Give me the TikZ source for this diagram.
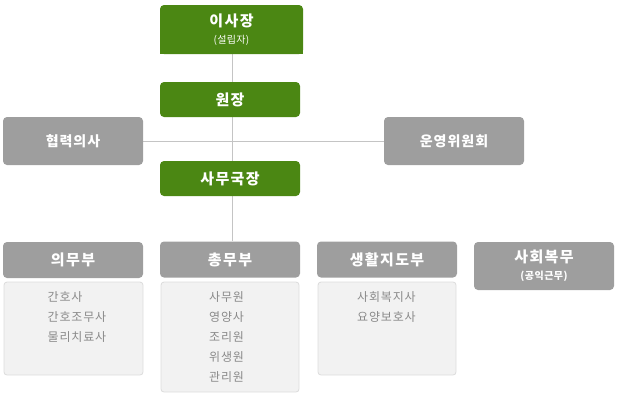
\documentclass[tikz,border=0pt]{standalone}
\usepackage{fontspec}
\setmainfont{Noto Sans CJK KR}
\usetikzlibrary{backgrounds}
\definecolor{gr}{HTML}{4B8713}
\definecolor{gy}{HTML}{9E9E9E}
\definecolor{lfill}{HTML}{F2F2F2}
\definecolor{lline}{HTML}{DCDCDC}
\definecolor{ltext}{HTML}{8A8A8A}
\definecolor{conn}{HTML}{C4C4C4}
\tikzset{
  greenbox/.style={fill=gr, rounded corners=4pt, text=white, inner sep=0pt,
    minimum width=140pt, minimum height=35pt, align=center,
    font=\bfseries\fontsize{15}{18}\selectfont\addfontfeatures{LetterSpace=9}},
  graybox/.style={fill=gy, rounded corners=4pt, text=white, inner sep=0pt,
    minimum width=140pt, minimum height=36pt, align=center,
    font=\bfseries\fontsize{15}{18}\selectfont\addfontfeatures{LetterSpace=9}},
  listbox/.style={fill=lfill, draw=lline, line width=0.8pt, rounded corners=3pt,
    inner sep=0pt, minimum width=138pt},
  listtext/.style={anchor=north west, inner sep=0pt, align=left, text=ltext,
    font=\fontsize{12}{20}\selectfont\addfontfeatures{LetterSpace=7}},
  connline/.style={draw=conn, line width=1pt},
}
\begin{document}
\begin{tikzpicture}[x=1pt,y=-1pt]
\useasboundingbox (0,0) rectangle (617,400);
% top
\node[greenbox, minimum width=143pt, minimum height=49pt] (isajang) at (231.5,29.5)
  {이사장\\[-1pt]{\fontsize{10}{12}\selectfont\mdseries\addfontfeatures{LetterSpace=3} (설립자)}};
\node[greenbox] (wonjang) at (230,99.5) {원장};
\node[greenbox] (samu) at (230,178.5) {사무국장};
\node[graybox, minimum height=48pt, font=\bfseries\fontsize{14}{17}\selectfont\addfontfeatures{LetterSpace=7}] (hyeop) at (73,141) {협력의사};
\node[graybox, minimum height=48pt, font=\bfseries\fontsize{14}{17}\selectfont\addfontfeatures{LetterSpace=7}] (unyeong) at (454,141) {운영위원회};
% departments
\node[graybox] (uimu) at (73,260) {의무부};
\node[graybox] (chongmu) at (230,259.5) {총무부};
\node[graybox] (saenghwal) at (387,259.5) {생활지도부};
\node[graybox, minimum height=48pt] (sahoe) at (544,266)
  {사회복무\\[-1pt]{\fontsize{10}{12}\selectfont\addfontfeatures{LetterSpace=5} (공익근무)}};
% lists
\node[listbox, minimum width=139pt, minimum height=93pt] (uimulist) at (73.5,328.5) {};
\node[listbox, minimum height=110pt] (chongmulist) at (230,337) {};
\node[listbox, minimum height=93pt] (saenghwallist) at (387,328.5) {};
\node[listtext] (uimuitems) at (47.5,291) {간호사\\간호조무사\\물리치료사};
\node[listtext] (chongmuitems) at (209,291) {사무원\\영양사\\조리원\\위생원\\관리원};
\node[listtext] (saenghwalitems) at (357,291) {사회복지사\\요양보호사};
% connectors
\begin{scope}[on background layer]
\fill[gr] (isajang.west) rectangle (isajang.south east);
\draw[connline] (isajang.south -| chongmu.north) ++(2.5,0) coordinate (ltop)
  -- (ltop |- chongmu.north);
\draw[connline] (hyeop.east) -- (unyeong.west);
\end{scope}
\end{tikzpicture}
\end{document}
